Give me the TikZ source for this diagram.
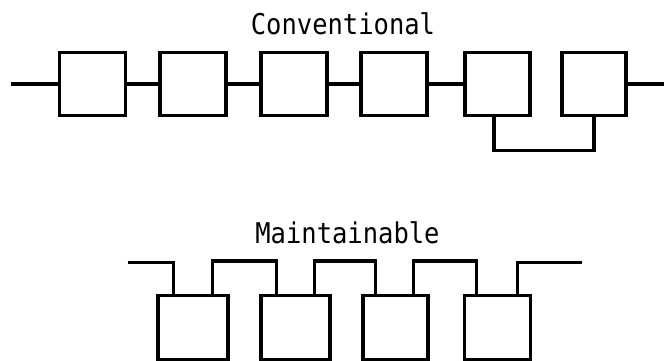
\documentclass[tikz,border=0pt]{standalone}
\usepackage{fontspec}
\usepackage{graphicx}
\newfontfamily\lblfont{DejaVu Sans Mono}
\newcommand{\tallbox}[1]{\scalebox{1}[1.12]{#1}}
\begin{document}
\begin{tikzpicture}[x=1pt,y=-1pt,
  wire/.style={line width=3.2pt},
  cbox/.style={draw,line width=3.2pt,rectangle,inner sep=0pt,minimum width=66pt,minimum height=63pt},
  mbox/.style={draw,line width=3.2pt,rectangle,inner sep=0pt,minimum height=64pt},
  title/.style={font=\lblfont\fontsize{25.5}{30}\selectfont,inner sep=0pt,anchor=base}]
\useasboundingbox (0,0) rectangle (664,361);
% Conventional
\node[title] (t1) at (343,35) {\tallbox{Conventional}};
\node[cbox] (c1) at (92.5,84) {};
\node[cbox] (c2) at (193,84) {};
\node[cbox] (c3) at (294,84) {};
\node[cbox] (c4) at (394,84) {};
\node[cbox,minimum width=65pt] (c5) at (497.5,84) {};
\node[cbox,minimum width=64pt] (c6) at (594,84) {};
\coordinate (cin) at (11,84);
\coordinate (cout) at (664,84);
\draw[wire] (cin) -- (c1.west);
\draw[wire] (c1.east) -- (c2.west);
\draw[wire] (c2.east) -- (c3.west);
\draw[wire] (c3.east) -- (c4.west);
\draw[wire] (c4.east) -- (c5.west);
\draw[wire] (c6.east) -- (cout);
\draw[wire] ([xshift=-3.5pt]c5.south) -- ++(0,33.5) -| (c6.south);
% Maintainable
\node[title] (t2) at (347.5,243) {\tallbox{Maintainable}};
\node[mbox,minimum width=70pt] (m1) at (193,327.5) {};
\node[mbox,minimum width=69pt] (m2) at (295.5,327.5) {};
\node[mbox,minimum width=65pt] (m3) at (395.5,327.5) {};
\node[mbox,minimum width=66pt] (m4) at (497.5,327.5) {};
\coordinate (min) at (127.5,262.5);
\coordinate (mout) at (581.5,262.5);
\draw[wire] (min) -| ([xshift=17pt]m1.north west);
\draw[wire] ([xshift=-17.5pt]m1.north east) -- ++(0,-33) -| ([xshift=17pt]m2.north west);
\draw[wire] ([xshift=-17pt]m2.north east) -- ++(0,-33) -| ([xshift=14pt]m3.north west);
\draw[wire] ([xshift=-16pt]m3.north east) -- ++(0,-33) -| ([xshift=13.5pt]m4.north west);
\draw[wire] ([xshift=-15pt]m4.north east) |- (mout);
\end{tikzpicture}
\end{document}
